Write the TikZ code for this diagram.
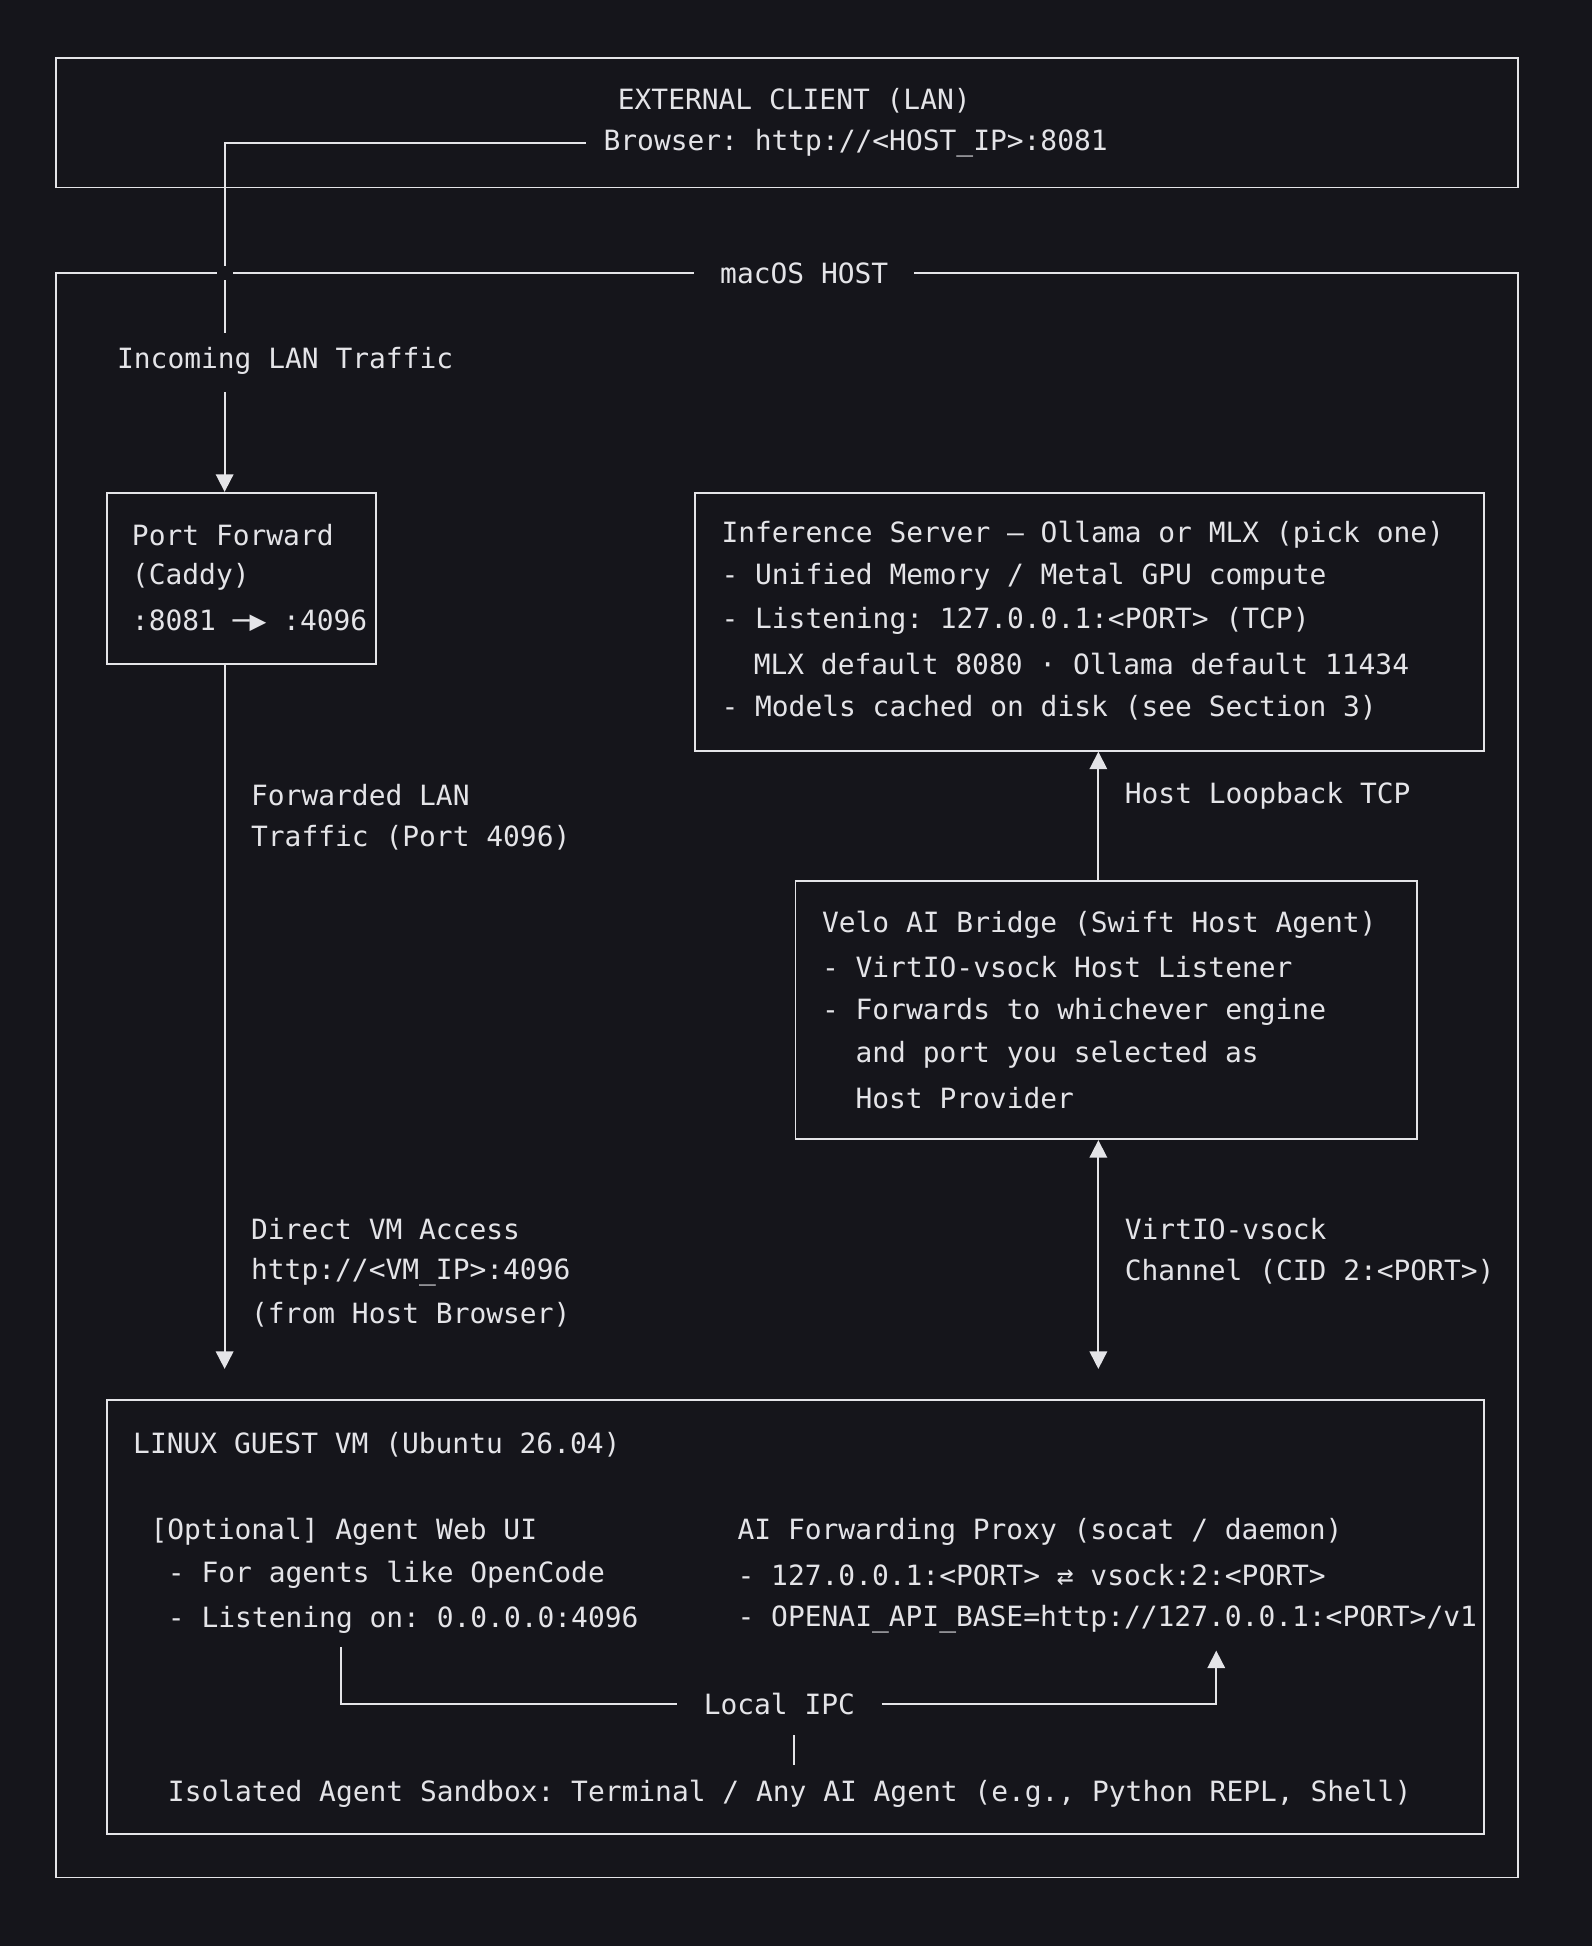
\documentclass[tikz,border=0pt]{standalone}
\usepackage{fontspec}
\setmonofont{DejaVu Sans Mono}
\usetikzlibrary{arrows.meta}
\definecolor{bg}{HTML}{15151B}
\definecolor{ink}{HTML}{E4E4E8}
\tikzset{
  txt/.style={anchor=west, inner sep=0pt, text=ink, font=\ttfamily\fontsize{12.8}{15}\selectfont},
  box/.style={draw=ink, line width=0.8pt, inner sep=0pt},
  wire/.style={draw=ink, line width=0.8pt},
  arr/.style={wire, -{Triangle[width=8pt,length=8pt]}},
}
\begin{document}
\begin{tikzpicture}[x=0.02cm,y=-0.02cm]
  \fill[bg] (0,0) rectangle (1283,1568);
  \useasboundingbox (0,0) rectangle (1283,1568);

  % Outer frames
  \node[box, minimum width=23.56cm, minimum height=2.08cm] (ext) at (634,99) {};
  \node[box, minimum width=23.56cm, minimum height=25.86cm] (host) at (634,866.5) {};

  % External client
  \node[txt, anchor=center] (extT) at (640,81) {EXTERNAL CLIENT (LAN)};
  \node[txt] (brw) at (486,115) {Browser: http://<HOST\_IP>:8081};
  \coordinate (lanA) at (181,115);
  \coordinate (lanB) at (181,268);
  \coordinate (lanC) at (181,316);
  \draw[wire] (brw.west) ++(-14,0) -- (lanA) -- (lanB);
  \node[txt] (inc) at (94,291) {Incoming LAN Traffic};

  % macOS title
  \fill[bg] (175,214) rectangle (188,226);
  \node[txt, anchor=center, fill=bg, inner xsep=12pt] (hostT) at (648,220) {macOS HOST};

  % Port forward
  \node[box, minimum width=4.34cm, minimum height=2.76cm] (pf) at (194.5,466) {};
  \node[txt] at (106,431) {Port Forward};
  \node[txt] at (106,465) {(Caddy)};
  \node[txt] at (106,500) {:8081 ─▶ :4096};
  \draw[arr] (lanC) -- (pf.north -| lanC);

  % Inference server
  \node[box, minimum width=12.72cm, minimum height=4.16cm] (inf) at (878,501) {};
  \node[txt] at (581,431) {Inference Server — Ollama or MLX (pick one)};
  \node[txt] at (581,465) {- Unified Memory / Metal GPU compute};
  \node[txt] at (581,500) {- Listening: 127.0.0.1:<PORT> (TCP)};
  \node[txt] at (607,535) {MLX default 8080 · Ollama default 11434};
  \node[txt] at (581,570) {- Models cached on disk (see Section 3)};

  % Velo bridge
  \node[box, minimum width=10.02cm, minimum height=4.16cm] (velo) at (891.5,814) {};
  \node[txt] at (662,745) {Velo AI Bridge (Swift Host Agent)};
  \node[txt] at (662,779) {- VirtIO-vsock Host Listener};
  \node[txt] at (662,815) {- Forwards to whichever engine};
  \node[txt] at (689,850) {and port you selected as};
  \node[txt] at (689,885) {Host Provider};

  % Linux guest
  \node[box, minimum width=22.2cm, minimum height=7cm] (vm) at (641,1303) {};
  \node[txt] at (107,1164) {LINUX GUEST VM (Ubuntu 26.04)};
  \node[txt] (webui) at (121,1234) {[Optional] Agent Web UI};
  \node[txt] at (135,1269) {- For agents like OpenCode};
  \node[txt] (listen) at (135,1305) {- Listening on: 0.0.0.0:4096};
  \node[txt] (proxy) at (594,1234) {AI Forwarding Proxy (socat / daemon)};
  \node[txt] at (594,1269) {- 127.0.0.1:<PORT> ⇄ vsock:2:<PORT>};
  \node[txt] (base) at (594,1305) {- OPENAI\_API\_BASE=http://127.0.0.1:<PORT>/v1};
  \node[txt] (sbx) at (135,1445) {Isolated Agent Sandbox: Terminal / Any AI Agent (e.g., Python REPL, Shell)};

  % Host-side connectors
  \coordinate (vmA) at (181,1103);
  \draw[arr] (pf.south -| vmA) -- (vmA);
  \node[txt] at (202,641) {Forwarded LAN};
  \node[txt] at (202,675) {Traffic (Port 4096)};
  \node[txt] at (202,990) {Direct VM Access};
  \node[txt] at (202,1025) {http://<VM\_IP>:4096};
  \node[txt] at (202,1059) {(from Host Browser)};

  \coordinate (lb) at (885,710);
  \draw[arr] (lb) -- (inf.south -| lb);
  \node[txt] at (906,641) {Host Loopback TCP};

  \coordinate (vs) at (885,1103);
  \draw[arr] (vs |- 1080,0) ++(0,1080) -- (vs);
  \draw[arr] (885,1080) -- (velo.south -| vs);
  \node[txt] at (906,990) {VirtIO-vsock};
  \node[txt] at (906,1025) {Channel (CID 2:<PORT>)};

  % Local IPC
  \coordinate (ipcL) at (275,1373);
  \coordinate (ipcR) at (980,1373);
  \coordinate (ipcT) at (980,1330);
  \node[txt, anchor=center, fill=bg, inner xsep=12pt] (ipc) at (628,1373) {Local IPC};
  \draw[wire] (275,1327) -- (ipcL) -- (ipc.west);
  \draw[arr] (ipc.east) -- (ipcR) -- (ipcT);
  \draw[wire] (640,1398) -- (640,1422);
\end{tikzpicture}
\end{document}
